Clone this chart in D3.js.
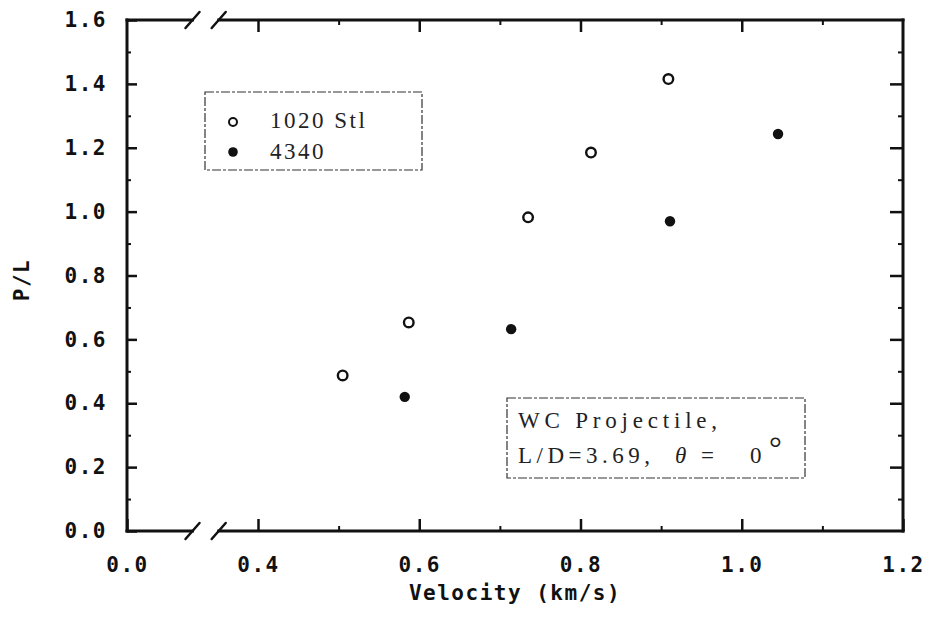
<!DOCTYPE html>
<html>
<head>
<meta charset="utf-8">
<script src="https://cdn.jsdelivr.net/npm/d3@7"></script>
<style>
  html, body { margin: 0; padding: 0; background: #fff; }
  svg { display: block; }
</style>
</head>
<body>
<svg id="chart" width="934" height="632"></svg>
<script>
// ---- data ----
const seriesNames = ["1020 Stl", "4340"];
const stl1020Velocity = [0.505, 0.587, 0.735, 0.813, 0.909];
const stl1020PL       = [0.487, 0.653, 0.982, 1.185, 1.415];
const s4340Velocity   = [0.582, 0.714, 0.911, 1.045];
const s4340PL         = [0.420, 0.632, 0.970, 1.243];

const xMajorTicks = [0.0, 0.4, 0.6, 0.8, 1.0, 1.2];
const xMinorTicks = [0.5, 0.7, 0.9, 1.1];
const yMajorTicks = [0.0, 0.2, 0.4, 0.6, 0.8, 1.0, 1.2, 1.4, 1.6];
const yMinorTicks = [0.1, 0.3, 0.5, 0.7, 0.9, 1.1, 1.3, 1.5];
const xBreak = [0.2, 0.28];   // axis break between 0.0 and 0.4
const xTitle = "Velocity (km/s)";
const yTitle = "P/L";
const noteLine1 = "WC Projectile,";
const noteLine2Parts = ["L/D=3.69,", "θ", "=", "0", "°"];

// ---- layout ----
const L = 127, R = 903, T = 20, B = 531;
const svg = d3.select("#chart");
const ink = "#111";

const x = d3.scaleLinear().domain([0.0, 0.4, 1.2]).range([L, 258, R]);
const y = d3.scaleLinear().domain([0, 1.6]).range([B, T]);

const tickFont = "'DejaVu Sans Mono', monospace";

function styleAxis(g, sw) {
  g.select(".domain").remove();
  g.selectAll("line").attr("stroke", ink).attr("stroke-width", sw);
  g.selectAll("text")
    .attr("fill", ink)
    .style("font-family", tickFont)
    .style("font-weight", "bold")
    .style("font-size", "21px")
    .style("letter-spacing", "1.5px");
}

// bottom axis
svg.append("g").attr("transform", `translate(0,${B})`)
  .call(d3.axisBottom(x).tickValues(xMajorTicks).tickSizeInner(-12).tickSizeOuter(0)
        .tickPadding(26).tickFormat(d3.format(".1f")))
  .call(g => styleAxis(g, 2.5));
svg.append("g").attr("transform", `translate(0,${B})`)
  .call(d3.axisBottom(x).tickValues(xMinorTicks).tickSizeInner(-5).tickSizeOuter(0).tickFormat(""))
  .call(g => styleAxis(g, 2));
// top axis
svg.append("g").attr("transform", `translate(0,${T})`)
  .call(d3.axisTop(x).tickValues(xMajorTicks.slice(1, -1)).tickSizeInner(-12).tickSizeOuter(0).tickFormat(""))
  .call(g => styleAxis(g, 2.5));
svg.append("g").attr("transform", `translate(0,${T})`)
  .call(d3.axisTop(x).tickValues(xMinorTicks).tickSizeInner(-5).tickSizeOuter(0).tickFormat(""))
  .call(g => styleAxis(g, 2));
// left axis
svg.append("g").attr("transform", `translate(${L},0)`)
  .call(d3.axisLeft(y).tickValues(yMajorTicks).tickSizeInner(-10).tickSizeOuter(0)
        .tickPadding(20).tickFormat(d3.format(".1f")))
  .call(g => styleAxis(g, 2.5));
svg.append("g").attr("transform", `translate(${L},0)`)
  .call(d3.axisLeft(y).tickValues(yMinorTicks).tickSizeInner(-4).tickSizeOuter(0).tickFormat(""))
  .call(g => styleAxis(g, 2));
// right axis
svg.append("g").attr("transform", `translate(${R},0)`)
  .call(d3.axisRight(y).tickValues(yMajorTicks.slice(1, -1)).tickSizeInner(-13).tickSizeOuter(0).tickFormat(""))
  .call(g => styleAxis(g, 2.5));
svg.append("g").attr("transform", `translate(${R},0)`)
  .call(d3.axisRight(y).tickValues(yMinorTicks).tickSizeInner(-5).tickSizeOuter(0).tickFormat(""))
  .call(g => styleAxis(g, 2));

// frame with break
const frame = svg.append("g").attr("stroke", ink).attr("stroke-width", 3).attr("fill", "none")
  .attr("stroke-linecap", "square");
const b0 = x(xBreak[0]), b1 = x(xBreak[1]);
[T, B].forEach(yy => {
  frame.append("line").attr("x1", L).attr("x2", b0).attr("y1", yy).attr("y2", yy);
  frame.append("line").attr("x1", b1).attr("x2", R).attr("y1", yy).attr("y2", yy);
  [b0, b1].forEach(bx => {
    frame.append("line").attr("x1", bx - 7).attr("y1", yy + 8).attr("x2", bx + 7).attr("y2", yy - 8)
      .attr("stroke-width", 2.5).attr("stroke-linecap", "round");
  });
});
frame.append("line").attr("x1", L).attr("x2", L).attr("y1", T).attr("y2", B);
frame.append("line").attr("x1", R).attr("x2", R).attr("y1", T).attr("y2", B);

// data
const open = stl1020Velocity.map((v, i) => ({ v, p: stl1020PL[i] }));
const filled = s4340Velocity.map((v, i) => ({ v, p: s4340PL[i] }));
svg.append("g").selectAll("circle").data(open).join("circle")
  .attr("cx", d => x(d.v)).attr("cy", d => y(d.p)).attr("r", 4.8)
  .attr("fill", "#fff").attr("stroke", ink).attr("stroke-width", 2.4);
svg.append("g").selectAll("circle").data(filled).join("circle")
  .attr("cx", d => x(d.v)).attr("cy", d => y(d.p)).attr("r", 5.2)
  .attr("fill", ink);

// axis titles
svg.append("text").attr("x", (L + R) / 2).attr("y", 600).attr("text-anchor", "middle")
  .attr("fill", ink).style("font-family", tickFont).style("font-weight", "bold")
  .style("font-size", "21px").style("letter-spacing", "1.5px").text(xTitle);
svg.append("text").attr("transform", "translate(29,280) rotate(-90)").attr("text-anchor", "middle")
  .attr("fill", ink).style("font-family", tickFont).style("font-weight", "bold")
  .style("font-size", "21px").style("letter-spacing", "1.5px").text(yTitle);

// legend box
const serif = "'Liberation Serif', 'DejaVu Serif', serif";
const dash = "9,2,3,2";
const leg = svg.append("g");
leg.append("rect").attr("x", 205).attr("y", 92).attr("width", 217).attr("height", 78)
  .attr("fill", "none").attr("stroke", "#333").attr("stroke-width", 1.2).attr("stroke-dasharray", dash);
leg.append("circle").attr("cx", 233).attr("cy", 122).attr("r", 4).attr("fill", "#fff")
  .attr("stroke", ink).attr("stroke-width", 2);
leg.append("circle").attr("cx", 233).attr("cy", 152).attr("r", 4.8).attr("fill", ink);
leg.selectAll("text").data(seriesNames).join("text")
  .attr("x", 270).attr("y", (d, i) => 128 + i * 31)
  .attr("fill", "#222").style("font-family", serif).style("font-size", "23px")
  .style("letter-spacing", "2.5px").text(d => d);

// annotation box
const note = svg.append("g");
note.append("rect").attr("x", 507).attr("y", 398).attr("width", 298).attr("height", 80)
  .attr("fill", "none").attr("stroke", "#333").attr("stroke-width", 1.2).attr("stroke-dasharray", dash);
note.append("text").attr("x", 518).attr("y", 428).attr("fill", "#222")
  .style("font-family", serif).style("font-size", "23px").style("letter-spacing", "4.8px")
  .text(noteLine1);
const t2 = note.append("text").attr("y", 463).attr("fill", "#222")
  .style("font-family", serif).style("font-size", "23px").style("letter-spacing", "4.5px");
const partX = [518, 675, 701, 750, 769];
t2.selectAll("tspan").data(noteLine2Parts).join("tspan")
  .attr("x", (d, i) => partX[i])
  .attr("dy", (d, i) => i === 4 ? -4 : 0)
  .style("font-style", (d, i) => i === 1 ? "italic" : "normal")
  .style("font-size", (d, i) => i === 4 ? "32px" : "23px")
  .text(d => d);
</script>
</body>
</html>
